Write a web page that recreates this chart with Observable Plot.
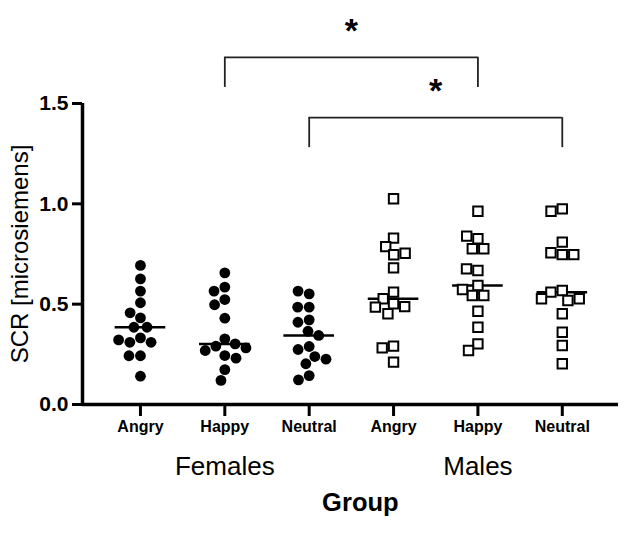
<!DOCTYPE html>
<html>
<head>
<meta charset="utf-8">
<script src="https://cdn.jsdelivr.net/npm/d3@7"></script>
<script src="https://cdn.jsdelivr.net/npm/@observablehq/plot@0.6"></script>
<style>
  html, body { margin: 0; padding: 0; background: white; }
</style>
</head>
<body>
<div id="chart"></div>
<script>
// ---- data ----
const sexes = ["Females", "Males"];
const emotions = ["Angry", "Happy", "Neutral"];
const femaleAngry   = [0.693, 0.626, 0.565, 0.507, 0.432, 0.457, 0.385, 0.385, 0.332, 0.310, 0.310, 0.322, 0.243, 0.243, 0.141];
const femaleHappy   = [0.656, 0.585, 0.565, 0.523, 0.497, 0.430, 0.327, 0.291, 0.302, 0.269, 0.282, 0.244, 0.231, 0.174, 0.120];
const femaleNeutral = [0.551, 0.565, 0.485, 0.485, 0.422, 0.410, 0.365, 0.344, 0.289, 0.274, 0.239, 0.226, 0.203, 0.144, 0.123];
const maleAngry     = [1.025, 0.829, 0.787, 0.746, 0.754, 0.681, 0.560, 0.502, 0.527, 0.488, 0.485, 0.452, 0.291, 0.282, 0.211];
const maleHappy     = [0.963, 0.826, 0.839, 0.776, 0.776, 0.668, 0.676, 0.593, 0.543, 0.543, 0.573, 0.465, 0.385, 0.302, 0.269];
const maleNeutral   = [0.975, 0.963, 0.809, 0.747, 0.756, 0.747, 0.568, 0.560, 0.518, 0.527, 0.527, 0.452, 0.360, 0.294, 0.203];
const seriesValues = [femaleAngry, femaleHappy, femaleNeutral, maleAngry, maleHappy, maleNeutral];
const yTicks = [0, 0.5, 1.0, 1.5];
// significance comparisons: from group index, to group index, bracket level, label
const comparisons = [
  {from: 1, to: 4, level: 1.73, label: "*"},
  {from: 2, to: 5, level: 1.43, label: "*"}
];
const yLabel = "SCR [microsiemens]";
const xLabel = "Group";

// ---- layout ----
const W = 623, H = 537;
const mL = 82, mR = 5, mT = 103, mB = 133;
const pad = 0.687;
const xDomain = [-pad, 5 + pad * 0.97];
const xPx = (W - mL - mR) / (xDomain[1] - xDomain[0]);
const yPx = (H - mT - mB) / 1.5;
const D = 11.5; // collision distance in px for the column scatter

function dodge(values) {
  const placed = [];
  return values.map(v => {
    const y = v * yPx;
    const blocks = placed
      .filter(p => Math.abs(p.y - y) < D)
      .map(p => { const dx = Math.sqrt(D * D - (p.y - y) ** 2); return [p.x - dx, p.x + dx]; });
    const cands = [0, ...blocks.flat()].sort((a, b) => Math.abs(a) - Math.abs(b));
    const x = cands.find(c => blocks.every(([a, b]) => c <= a + 1e-9 || c >= b - 1e-9));
    placed.push({x, y});
    return x;
  });
}

const points = [];
seriesValues.forEach((vals, gi) => {
  const offs = dodge(vals);
  vals.forEach((v, j) => points.push({
    group: gi, sex: sexes[Math.floor(gi / 3)], emotion: emotions[gi % 3],
    value: v, x: gi + offs[j] / xPx
  }));
});
const medians = seriesValues.map((vals, gi) => ({group: gi, median: d3.median(vals)}));

const tip = 0.15;
const font = "'Liberation Sans', Arial, Helvetica, sans-serif";

const plot = Plot.plot({
  width: W, height: H,
  marginLeft: mL, marginRight: mR, marginTop: mT, marginBottom: mB,
  style: {fontFamily: font, color: "black", background: "white", overflow: "visible"},
  x: {domain: xDomain, axis: null},
  y: {domain: [0, 1.5], axis: null},
  marks: [
    Plot.ruleX([xDomain[0]], {y1: 0, y2: 1.5, stroke: "black", strokeWidth: 3.5}),
    Plot.ruleY([0], {stroke: "black", strokeWidth: 3.5}),
    Plot.axisY(yTicks, {tickSize: 10, tickFormat: () => "", strokeWidth: 3, label: null}),
    Plot.axisX(d3.range(6), {tickSize: 12, tickFormat: () => "", strokeWidth: 3, label: null}),
    // tick labels
    Plot.text(yTicks, {y: d => d, text: d => d3.format(".1f")(d), frameAnchor: "left", textAnchor: "end",
      dx: -14, fontSize: 21, fontWeight: "bold"}),
    Plot.text(d3.range(6), {x: d => d, text: i => emotions[i % 3], frameAnchor: "bottom", dy: 27.5,
      fontSize: 16, fontWeight: "bold"}),
    Plot.text(sexes, {x: (d, i) => i * 3 + 1, text: d => d, frameAnchor: "bottom", dy: 70, fontSize: 26}),
    Plot.text([xLabel], {x: 2.5, text: d => d, frameAnchor: "bottom", dy: 106, dx: 9, fontSize: 25.5, fontWeight: "bold"}),
    Plot.text([yLabel], {text: d => d, frameAnchor: "left", textAnchor: "middle", dx: -62, rotate: -90, fontSize: 24}),
    // medians
    Plot.ruleY(medians, {y: "median", x1: d => d.group - 0.3, x2: d => d.group + 0.3, stroke: "black", strokeWidth: 2.5}),
    // females: filled circles
    Plot.dot(points.filter(d => d.sex === "Females"), {x: "x", y: "value", r: 5.4, fill: "black", stroke: "none"}),
    // males: open squares
    Plot.dot(points.filter(d => d.sex === "Males"), {x: "x", y: "value", r: 5.3, symbol: "square", fill: "white", stroke: "black", strokeWidth: 2}),
    // significance brackets
    Plot.ruleY(comparisons, {y: "level", x1: "from", x2: "to", stroke: "#222", strokeWidth: 1.8}),
    Plot.ruleX(comparisons, {x: "from", y1: "level", y2: d => d.level - tip, stroke: "#222", strokeWidth: 1.8}),
    Plot.ruleX(comparisons, {x: "to", y1: "level", y2: d => d.level - tip, stroke: "#222", strokeWidth: 1.8}),
    Plot.text(comparisons, {x: d => (d.from + d.to) / 2, y: "level", text: "label", dy: -26, fontSize: 34, fontWeight: "bold"})
  ]
});
document.getElementById("chart").appendChild(plot);
</script>
</body>
</html>
